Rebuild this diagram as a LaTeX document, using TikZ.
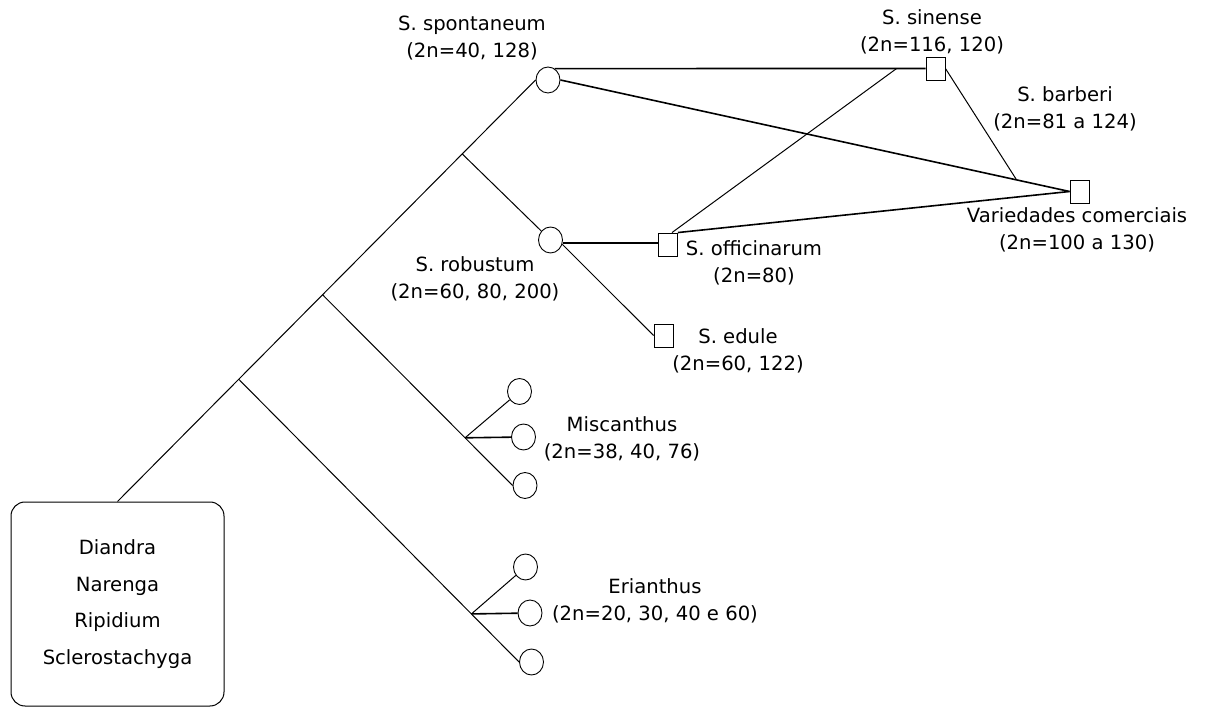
\documentclass[tikz,border=0pt]{standalone}
\usepackage{fontspec}
\setmainfont{DejaVu Sans}
\usetikzlibrary{shapes.geometric}
\begin{document}
\begin{tikzpicture}[x=1pt,y=-1pt,
  circ/.style={ellipse,draw,line width=0.9pt,minimum width=24pt,minimum height=26pt,inner sep=0pt},
  sq/.style={rectangle,draw,line width=0.9pt,minimum width=19pt,minimum height=23pt,inner sep=0pt},
  lbl/.style={align=center,font=\fontsize{19.6}{27}\selectfont,inner sep=0pt},
  branch/.style={line width=1pt},
  link/.style={line width=1.6pt}]
\useasboundingbox (0,0) rectangle (1208,708);
\fill[white] (0,0) rectangle (1208,708);

% nodes
\node[circ] (spont) at (548,80) {};
\node[circ] (rob) at (550.5,240) {};
\node[sq] (sin) at (935.5,68.5) {};
\node[sq] (var) at (1079.5,191.5) {};
\node[sq] (off) at (668,244.5) {};
\node[sq] (edule) at (663.5,335.5) {};
\node[circ] (m1) at (519.5,391.5) {};
\node[circ] (m2) at (523.5,437) {};
\node[circ] (m3) at (525,485.5) {};
\node[circ] (e1) at (525.5,567) {};
\node[circ] (e2) at (530,613) {};
\node[circ] (e3) at (531.5,662) {};
\node[draw,rounded corners=14pt,minimum width=213pt,minimum height=204pt,
      align=center,font=\fontsize{19.6}{36.7}\selectfont,line width=1pt]
      (box) at (117.5,604) {Diandra\\Narenga\\Ripidium\\Sclerostachyga};

% labels
\node[lbl] (lspont) at (472,38) {S. spontaneum\\(2n=40, 128)};
\node[lbl] (lsin) at (932,32) {S. sinense\\(2n=116, 120)};
\node[lbl] (lbar) at (1065,108.5) {S. barberi\\(2n=81 a 124)};
\node[lbl] (lvar) at (1077,229.5) {Variedades comerciais\\(2n=100 a 130)};
\node[lbl] (lrob) at (475,279) {S. robustum\\(2n=60, 80, 200)};
\node[lbl] (loff) at (754,263) {S. officinarum\\(2n=80)};
\node[lbl] (ledu) at (738,351) {S. edule\\(2n=60, 122)};
\node[lbl] (lmis) at (622,438.5) {Miscanthus\\(2n=38, 40, 76)};
\node[lbl] (leri) at (655,600.5) {Erianthus\\(2n=20, 30, 40 e 60)};

% trunk and branches
\draw[branch] (box.north) -- (spont.west)
  coordinate[pos=0.2900] (j3) coordinate[pos=0.4905] (j2) coordinate[pos=0.8246] (j1);
\draw[branch] (j1) -- (rob);
\draw[branch] (j2) -- (m3.west) coordinate[pos=0.75] (jm);
\draw[branch] (jm) -- (m1);
\draw[link] (jm) -- (m2);
\draw[branch] (j3) -- (e3.west) coordinate[pos=0.83] (je);
\draw[branch] (je) -- (e1);
\draw[link] (je) -- (e2);

% crossing links
\draw[link] (spont.60) -- (sin.west) coordinate[pos=0.922] (js);
\draw[link] (spont.east) -- (var.west) coordinate[pos=0.896] (jb);
\draw[branch] (sin.east) -- (jb);
\draw[branch] ([xshift=4pt]off.north) -- (js);
\draw[link] (off.north east) -- (var.west);
\draw[link] ([yshift=1.5pt]off.west) -- ([yshift=1.5pt]rob.east |- off.west);
\draw[branch] (rob.-20) -- (edule.west);
\end{tikzpicture}
\end{document}
